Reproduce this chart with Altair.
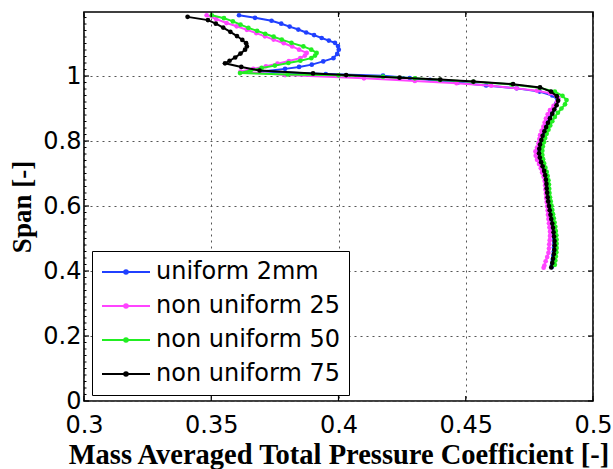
import altair as alt
import pandas as pd

# ---- series data: span position [-] and mass averaged total pressure coefficient [-]
series_names = ["uniform 2mm", "non uniform 25", "non uniform 50", "non uniform 75"]
series_colors = ["#2040ff", "#ff44ff", "#22ee22", "#000000"]

uniform_2mm_span = [1.187, 1.179, 1.170, 1.161, 1.152, 1.143, 1.134, 1.126, 1.117, 1.109,
                    1.102, 1.092, 1.081, 1.068, 1.055, 1.045, 1.035, 1.028, 1.022, 1.014,
                    1.006, 1.001, 0.994, 0.988, 0.980, 0.971, 0.962, 0.952, 0.940, 0.928,
                    0.915, 0.902, 0.889, 0.876, 0.863, 0.850, 0.837, 0.824, 0.811, 0.798,
                    0.785, 0.772, 0.759, 0.746, 0.733, 0.720, 0.707, 0.694, 0.681, 0.668,
                    0.655, 0.642, 0.629, 0.616, 0.603, 0.590, 0.577, 0.564, 0.551, 0.538,
                    0.525, 0.512, 0.499, 0.486, 0.473, 0.460, 0.447, 0.434, 0.421, 0.412]
uniform_2mm_coef = [0.3609, 0.3672, 0.3737, 0.3775, 0.3808, 0.3842, 0.3873, 0.3904, 0.3934, 0.3962,
                    0.3986, 0.3998, 0.4001, 0.3995, 0.3980, 0.3940, 0.3895, 0.3845, 0.3790, 0.3698,
                    0.3950, 0.4175, 0.4280, 0.4360, 0.4470, 0.4580, 0.4700, 0.4790, 0.4840, 0.4860,
                    0.4855, 0.4848, 0.4840, 0.4831, 0.4824, 0.4817, 0.4810, 0.4804, 0.4798, 0.4793,
                    0.4790, 0.4788, 0.4789, 0.4792, 0.4797, 0.4802, 0.4808, 0.4812, 0.4816, 0.4819,
                    0.4820, 0.4821, 0.4823, 0.4826, 0.4829, 0.4832, 0.4835, 0.4838, 0.4841, 0.4844,
                    0.4846, 0.4847, 0.4848, 0.4848, 0.4847, 0.4846, 0.4844, 0.4842, 0.4840, 0.4838]

non_uniform_25_span = [1.187, 1.175, 1.163, 1.153, 1.142, 1.132, 1.122, 1.112, 1.101, 1.091,
                       1.081, 1.071, 1.063, 1.055, 1.046, 1.038, 1.030, 1.022, 1.014, 1.003,
                       0.993, 0.985, 0.978, 0.970, 0.962, 0.955, 0.947, 0.939, 0.931, 0.920,
                       0.908, 0.895, 0.882, 0.869, 0.857, 0.844, 0.831, 0.818, 0.806, 0.793,
                       0.780, 0.768, 0.755, 0.742, 0.729, 0.716, 0.703, 0.690, 0.677, 0.664,
                       0.651, 0.638, 0.625, 0.612, 0.599, 0.586, 0.573, 0.560, 0.547, 0.534,
                       0.521, 0.508, 0.495, 0.482, 0.469, 0.456, 0.443, 0.430, 0.417, 0.410]
non_uniform_25_coef = [0.3482, 0.3520, 0.3560, 0.3600, 0.3640, 0.3677, 0.3711, 0.3745, 0.3785, 0.3818,
                       0.3845, 0.3875, 0.3868, 0.3850, 0.3805, 0.3760, 0.3715, 0.3665, 0.3615, 0.3790,
                       0.4100, 0.4300, 0.4464, 0.4600, 0.4700, 0.4780, 0.4831, 0.4855, 0.4864, 0.4858,
                       0.4845, 0.4831, 0.4822, 0.4815, 0.4810, 0.4805, 0.4798, 0.4792, 0.4789, 0.4786,
                       0.4780, 0.4774, 0.4775, 0.4780, 0.4788, 0.4795, 0.4800, 0.4806, 0.4810, 0.4812,
                       0.4813, 0.4815, 0.4816, 0.4818, 0.4820, 0.4822, 0.4823, 0.4825, 0.4827, 0.4829,
                       0.4831, 0.4831, 0.4830, 0.4828, 0.4827, 0.4825, 0.4820, 0.4814, 0.4809, 0.4806]

non_uniform_50_span = [1.187, 1.178, 1.168, 1.158, 1.148, 1.139, 1.130, 1.121, 1.112, 1.102,
                       1.091, 1.081, 1.071, 1.063, 1.055, 1.047, 1.040, 1.032, 1.025, 1.017,
                       1.009, 1.005, 1.002, 0.998, 0.993, 0.988, 0.982, 0.974, 0.964, 0.952,
                       0.939, 0.926, 0.913, 0.900, 0.887, 0.874, 0.861, 0.848, 0.835, 0.822,
                       0.809, 0.796, 0.783, 0.770, 0.757, 0.744, 0.731, 0.718, 0.705, 0.692,
                       0.679, 0.666, 0.653, 0.640, 0.627, 0.614, 0.601, 0.588, 0.575, 0.562,
                       0.549, 0.536, 0.523, 0.510, 0.497, 0.484, 0.471, 0.458, 0.445, 0.432,
                       0.419]
non_uniform_50_coef = [0.3502, 0.3550, 0.3585, 0.3615, 0.3646, 0.3680, 0.3712, 0.3745, 0.3777, 0.3815,
                       0.3862, 0.3893, 0.3914, 0.3908, 0.3893, 0.3850, 0.3803, 0.3750, 0.3698, 0.3655,
                       0.3613, 0.3800, 0.4000, 0.4175, 0.4300, 0.4399, 0.4530, 0.4680, 0.4790, 0.4850,
                       0.4880, 0.4896, 0.4890, 0.4876, 0.4862, 0.4850, 0.4840, 0.4832, 0.4825, 0.4818,
                       0.4812, 0.4807, 0.4803, 0.4801, 0.4801, 0.4804, 0.4808, 0.4813, 0.4818, 0.4822,
                       0.4825, 0.4827, 0.4828, 0.4829, 0.4831, 0.4834, 0.4837, 0.4840, 0.4843, 0.4846,
                       0.4849, 0.4852, 0.4854, 0.4856, 0.4857, 0.4857, 0.4857, 0.4856, 0.4854, 0.4852,
                       0.4850]

non_uniform_75_span = [1.182, 1.172, 1.161, 1.149, 1.136, 1.123, 1.111, 1.101, 1.091, 1.081,
                       1.069, 1.057, 1.047, 1.039, 1.028, 1.017, 1.008, 1.003, 0.995, 0.989,
                       0.983, 0.975, 0.965, 0.952, 0.938, 0.924, 0.910, 0.897, 0.884, 0.870,
                       0.856, 0.843, 0.830, 0.816, 0.803, 0.789, 0.776, 0.762, 0.749, 0.735,
                       0.722, 0.708, 0.695, 0.681, 0.668, 0.654, 0.641, 0.627, 0.614, 0.600,
                       0.587, 0.573, 0.560, 0.546, 0.533, 0.519, 0.506, 0.492, 0.479, 0.465,
                       0.452, 0.438, 0.425, 0.411]
non_uniform_75_coef = [0.3407, 0.3487, 0.3518, 0.3547, 0.3575, 0.3601, 0.3622, 0.3637, 0.3640, 0.3633,
                       0.3615, 0.3594, 0.3572, 0.3554, 0.3618, 0.3690, 0.3900, 0.4030, 0.4240, 0.4400,
                       0.4530, 0.4686, 0.4792, 0.4835, 0.4858, 0.4863, 0.4857, 0.4848, 0.4840, 0.4831,
                       0.4823, 0.4816, 0.4809, 0.4802, 0.4797, 0.4792, 0.4789, 0.4788, 0.4791, 0.4796,
                       0.4802, 0.4808, 0.4812, 0.4815, 0.4817, 0.4818, 0.4820, 0.4822, 0.4824, 0.4827,
                       0.4830, 0.4833, 0.4836, 0.4840, 0.4843, 0.4845, 0.4847, 0.4849, 0.4849, 0.4848,
                       0.4846, 0.4843, 0.4840, 0.4836]

# ---- axis ticks
x_ticks = [0.3, 0.35, 0.4, 0.45, 0.5]
y_ticks = [0.0, 0.2, 0.4, 0.6, 0.8, 1.0]
y_minor_ticks = [round(0.02 * i, 2) for i in range(1, 60) if i % 10]
x_domain = [0.3, 0.5]
y_domain = [0.0, 1.197]

W, H = 509, 389

series_spans = [uniform_2mm_span, non_uniform_25_span, non_uniform_50_span, non_uniform_75_span]
series_coefs = [uniform_2mm_coef, non_uniform_25_coef, non_uniform_50_coef, non_uniform_75_coef]

frames = []
for name, spans, coefs in zip(series_names, series_spans, series_coefs):
    frames.append(pd.DataFrame({"series": name, "span": spans, "coef": coefs,
                                "idx": range(len(spans))}))
df = pd.concat(frames, ignore_index=True)

xscale = alt.Scale(domain=x_domain, nice=False, zero=False)
yscale = alt.Scale(domain=y_domain, nice=False, zero=False)
cscale = alt.Scale(domain=series_names, range=series_colors)

# legend sample: a short line with a dot in its middle
legend_symbol = ("M-2.75,0H9.25"
                 "M3.7,0A0.45,0.45,0,1,1,2.8,0A0.45,0.45,0,1,1,3.7,0")

x_axis = alt.Axis(values=x_ticks, format=".2~f", title="Mass Averaged Total Pressure Coefficient [-]",
                  labelFont="DejaVu Sans", labelFontSize=24, labelColor="black", labelPadding=12,
                  labelFlush=False, ticks=False, tickSize=0, domain=False,
                  grid=True, gridDash=[2, 4], gridColor="#555555", gridWidth=1,
                  titleFont="Liberation Serif", titleFontWeight="bold", titleFontSize=28.5,
                  titleColor="black", titleX=W / 2, titleY=62, titleBaseline="alphabetic",
                  titleAlign="center")
y_axis = alt.Axis(values=y_ticks, format=".1~f", title="Span [-]",
                  labelFont="DejaVu Sans", labelFontSize=24, labelColor="black", labelPadding=3,
                  ticks=False, tickSize=0, domain=False,
                  grid=True, gridDash=[2, 4], gridColor="#555555", gridWidth=1,
                  titleFont="Liberation Serif", titleFontWeight="bold", titleFontSize=27,
                  titleColor="black", titleAngle=270, titleX=-54, titleY=H / 2,
                  titleBaseline="alphabetic", titleAlign="center")

legend = alt.Legend(title=None, orient="none", legendX=8, legendY=239, direction="vertical",
                    symbolType=legend_symbol, symbolSize=64, symbolStrokeWidth=2,
                    symbolOpacity=1, labelFont="DejaVu Sans", labelFontSize=24,
                    labelColor="black", labelOffset=31, labelLimit=400, rowPadding=10,
                    padding=9, strokeColor="black", fillColor="white")

layers = []
# axes, grid and legend are carried by the first layer
axis_frame = alt.Chart(df).mark_line(opacity=0).encode(
    x=alt.X("coef:Q", scale=xscale, axis=x_axis),
    y=alt.Y("span:Q", scale=yscale, axis=y_axis),
    color=alt.Color("series:N", scale=cscale, legend=legend),
    order=alt.Order("idx:Q"),
)
layers.append(axis_frame)

for name in series_names:
    lyr = alt.Chart(df).transform_filter(alt.datum.series == name).mark_line(
        strokeWidth=2,
        point=alt.OverlayMarkDef(filled=True, size=22, opacity=1),
    ).encode(
        x=alt.X("coef:Q", scale=xscale),
        y=alt.Y("span:Q", scale=yscale),
        color=alt.Color("series:N", scale=cscale),
        order=alt.Order("idx:Q"),
    )
    layers.append(lyr)

# inward major ticks on all four sides, minor ticks on the left side
xt = pd.DataFrame({"coef": x_ticks})
yt = pd.DataFrame({"span": y_ticks})
ym = pd.DataFrame({"span": y_minor_ticks})
tick_mark = dict(color="black", strokeWidth=1.2)
layers += [
    alt.Chart(xt).mark_rule(**tick_mark).encode(
        x=alt.X("coef:Q", scale=xscale), y=alt.value(H), y2=alt.value(H - 5)),
    alt.Chart(xt).mark_rule(**tick_mark).encode(
        x=alt.X("coef:Q", scale=xscale), y=alt.value(0), y2=alt.value(5)),
    alt.Chart(yt).mark_rule(**tick_mark).encode(
        y=alt.Y("span:Q", scale=yscale), x=alt.value(0), x2=alt.value(5)),
    alt.Chart(yt).mark_rule(**tick_mark).encode(
        y=alt.Y("span:Q", scale=yscale), x=alt.value(W), x2=alt.value(W - 5)),
    alt.Chart(ym).mark_rule(color="black", strokeWidth=1).encode(
        y=alt.Y("span:Q", scale=yscale), x=alt.value(0), x2=alt.value(2.5)),
]

chart = alt.layer(*layers).properties(
    width=W, height=H,
    autosize=alt.AutoSizeParams(type="none"),
    padding={"left": 84, "top": 12, "right": 20, "bottom": 68},
    background="white",
).configure_view(stroke="black", strokeWidth=1.6)

chart.save("out.html", embed_options={"renderer": "svg", "actions": False})
